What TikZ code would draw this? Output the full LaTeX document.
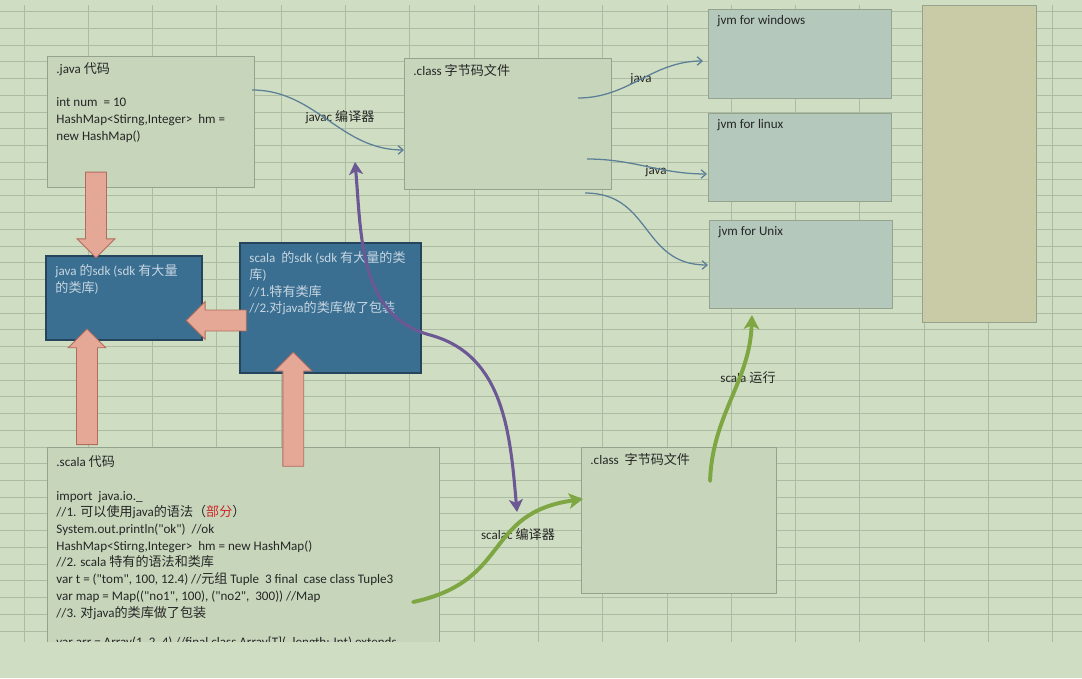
\documentclass[tikz,border=0pt]{standalone}
\usepackage{fontspec}
\setmainfont{Carlito}[Ligatures=TeXOff]
\newfontfamily\cjk{Noto Sans CJK SC}
\usetikzlibrary{arrows.meta,shapes.arrows,calc}
\newcommand{\zh}[1]{{\cjk #1}}

\definecolor{sheetbg}{RGB}{207,222,194}
\definecolor{gridline}{RGB}{172,188,162}
\definecolor{codefill}{RGB}{199,214,187}
\definecolor{boxline}{RGB}{148,162,142}
\definecolor{jvmfill}{RGB}{180,200,188}
\definecolor{tanfill}{RGB}{201,203,167}
\definecolor{sdkfill}{RGB}{58,111,146}
\definecolor{sdkline}{RGB}{38,68,92}
\definecolor{sdktext}{RGB}{198,213,224}
\definecolor{blockfill}{RGB}{230,168,150}
\definecolor{blockline}{RGB}{176,108,94}
\definecolor{thinline}{RGB}{92,127,152}
\definecolor{purpleline}{RGB}{108,88,148}
\definecolor{greenline}{RGB}{126,166,66}
\definecolor{partred}{RGB}{204,40,40}

\tikzset{Box/.style={draw=boxline,fill=codefill,anchor=north west,inner sep=0pt,outer sep=0pt,rectangle}}
\tikzset{Jvm/.style={Box,fill=jvmfill}}
\tikzset{Sdk/.style={Box,draw=sdkline,fill=sdkfill,line width=0.8pt}}
\tikzset{BoxText/.style={anchor=north west,align=left,inner xsep=6.5pt,inner ysep=4.5pt,text=black!85,font=\fontsize{9.3pt}{11.9pt}\selectfont}}
\tikzset{SdkText/.style={BoxText,text=sdktext,inner ysep=6pt}}
\tikzset{Tag/.style={font=\fontsize{9.3pt}{11pt}\selectfont,text=black!85,inner sep=1pt}}
\tikzset{Block/.style={single arrow,draw=blockline,fill=blockfill,inner xsep=0pt,inner ysep=0.25cm,single arrow head extend=0.21cm,single arrow head indent=0pt,line width=0.6pt,anchor=tail}}
\tikzset{Thin/.style={draw=thinline,line width=0.9pt,-{Straight Barb[length=3.5pt,width=6pt]}}}
\tikzset{Thick/.style={line width=2.2pt,line cap=round}}

\begin{document}
\begin{tikzpicture}[x=0.025cm,y=0.025cm]

\useasboundingbox (0,0) rectangle (1082,678);
\fill[sheetbg] (0,0) rectangle (1082,678);

% sheet grid
\foreach \k in {0,...,37}
  \draw[gridline,line width=0.6pt] (0,{666.3-16.74*\k}) -- (1082,{666.3-16.74*\k});
\foreach \k in {0,...,16}
  \draw[gridline,line width=0.6pt] ({24+64.3*\k},36) -- ({24+64.3*\k},673);

% boxes
\node[Box,minimum width=5.175cm,minimum height=3.275cm] (java) at (47,622) {};
\node[Box,minimum width=5.175cm,minimum height=3.275cm] (classT) at (404,620) {};
\node[Jvm,minimum width=4.575cm,minimum height=2.225cm] (jvmW) at (708,669) {};
\node[Jvm,minimum width=4.575cm,minimum height=2.2cm] (jvmL) at (708,565) {};
\node[Jvm,minimum width=4.575cm,minimum height=2.2cm] (jvmU) at (709,458) {};
\node[Box,fill=tanfill,minimum width=2.85cm,minimum height=7.925cm] (tan) at (922,673) {};
\node[Sdk,minimum width=3.9cm,minimum height=2.1cm] (sdkJ) at (46,422) {};
\node[Sdk,minimum width=4.525cm,minimum height=3.25cm] (sdkS) at (240,435) {};
\node[Box,minimum width=9.8cm,minimum height=5.325cm] (scalaCode) at (47,231) {};
\node[Box,minimum width=4.875cm,minimum height=3.65cm] (classB) at (581,231) {};

% box texts
\node[BoxText,at=(java.north west)] {.java \zh{代码}\\~\\int num~ = 10\\HashMap<Stirng,Integer>~ hm =\\new HashMap()};
\node[BoxText,at=(classT.north west)] {.class \zh{字节码文件}};
\node[BoxText,at=(jvmW.north west)] {jvm for windows};
\node[BoxText,at=(jvmL.north west)] {jvm for linux};
\node[BoxText,at=(jvmU.north west)] {jvm for Unix};
\node[SdkText,at=(sdkJ.north west)] {java \zh{的}sdk (sdk \zh{有大量}\\\zh{的类库})};
\node[SdkText,at=(sdkS.north west)] {scala~ \zh{的}sdk (sdk \zh{有大量的类}\\\zh{库})\\//1.\zh{特有类库}\\//2.\zh{对}java\zh{的类库做了包装}};
\node[BoxText,at=(scalaCode.north west),inner ysep=6pt] {.scala \zh{代码}\\~\\import~ java.io.\_\\//1. \zh{可以使用}java\zh{的语法（}\textcolor{partred}{\zh{部分}}\zh{）}\\System.out.println("ok")~ //ok\\HashMap<Stirng,Integer>~ hm = new HashMap()\\//2. scala \zh{特有的语法和类库}\\var t = ("tom", 100, 12.4) //\zh{元组} Tuple~ 3 final~ case class Tuple3\\var map = Map(("no1", 100), ("no2",~ 300)) //Map\\//3. \zh{对}java\zh{的类库做了包装}\\~\\[-3pt]var arr = Array(1, 2, 4) //final class Array[T](\_length: Int) extends};
\node[BoxText,at=(classB.north west)] {.class~ \zh{字节码文件}};

% labels
\node[Tag] (javac) at (340,561) {javac \zh{编译器}};
\node[Tag] (javaW) at (641,599) {java};
\node[Tag] (javaL) at (656,507) {java};
\node[Tag] (scalaRun) at (748,300) {scala \zh{运行}};
\node[Tag] (scalac) at (518,143) {scalac \zh{编译器}};

% thin arrows
\draw[Thin] ($(java.north east)+(-2,-34)$) to[out=0,in=180] ($(classT.north west)+(0,-92)$);
\draw[Thin] ($(classT.north east)+(-33,-40)$) to[out=0,in=180] ($(jvmW.north west)+(-5,-52)$);
\draw[Thin] ($(classT.north east)+(-24,-101)$) to[out=0,in=180] ($(jvmL.north west)+(-1,-61)$);
\draw[Thin] ($(classT.south east)+(-26,-4)$) to[out=0,in=180,looseness=1.2] ($(jvmU.north west)+(-1,-45)$);

% block arrows
\node[Block,minimum height=2.14cm,rotate=270] (downJ) at (96,506.3) {};
\node[Block,minimum height=2.89cm,rotate=90] (upJ) at (87,233) {};
\node[Block,minimum height=1.5cm,rotate=180] (wrapJ) at (246.7,357.5) {};
\node[Block,minimum height=2.85cm,rotate=90] (upS) at (293.3,211.3) {};

% compilers
\coordinate (pTop) at (355,516);
\coordinate (pMid) at (430,343);
\coordinate (pBot) at (517,166);
\draw[Thick,purpleline,{Stealth[length=9pt,width=10pt,inset=2.5pt]}-{Stealth[length=9pt,width=10pt,inset=2.5pt]}] (pTop) to[out=-85,in=165] (pMid) to[out=-15,in=95] (pBot);

\draw[Thick,greenline,line width=2.8pt,-{Stealth[length=10pt,width=11pt,inset=2.5pt]}] ($(scalaCode.north east)+(-26,-155)$) to[out=12,in=188,looseness=1.3] ($(classB.north west)+(2,-52)$);
\draw[Thick,greenline,line width=2.8pt,-{Stealth[length=10pt,width=11pt,inset=2.5pt]}] ($(classB.north east)+(-66,-34)$) to[out=88,in=-92] ($(jvmU.south west)+(43,-7)$);

% end of the sheet
\fill[sheetbg] (0,0) rectangle (1082,36);

\end{tikzpicture}
\end{document}
